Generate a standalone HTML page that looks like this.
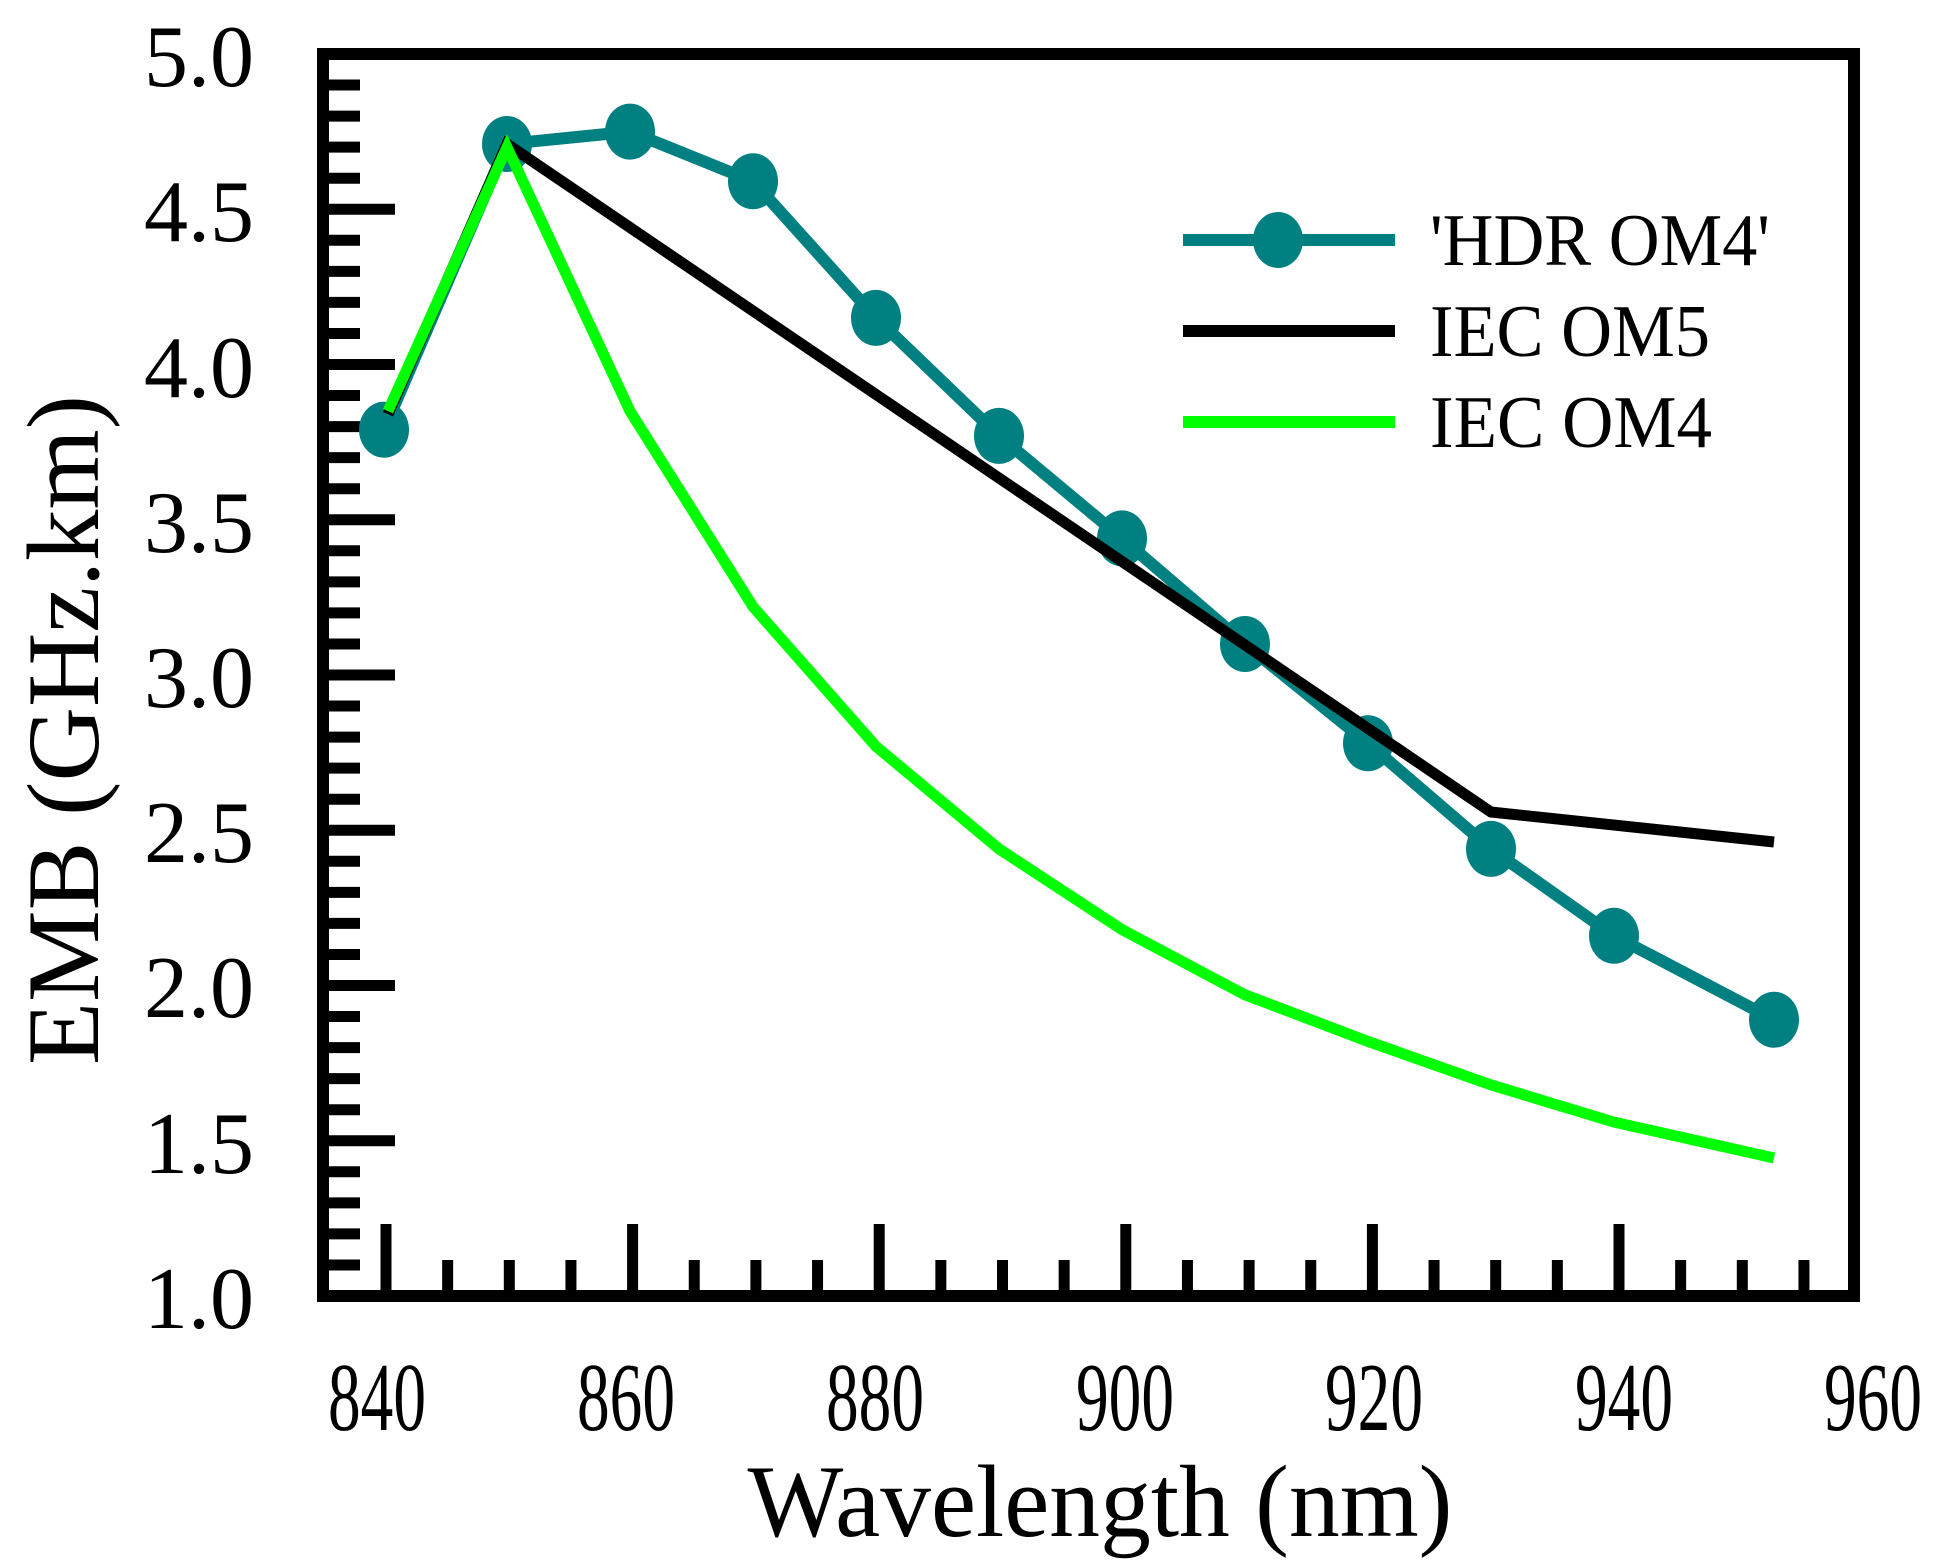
<!DOCTYPE html>
<html><head><meta charset="utf-8"><style>
html,body{margin:0;padding:0;background:#fff;}
svg{display:block;}
text{font-family:"Liberation Serif",serif;fill:#000;}
</style></head><body>
<svg width="1942" height="1567" viewBox="0 0 1942 1567" xmlns="http://www.w3.org/2000/svg">
<path fill="none" stroke="#000" stroke-width="11" d="
M323 1264.95h37 M323 1233.9h37 M323 1202.85h37 M323 1171.8h37 M323 1140.75h72
M323 1109.7h37 M323 1078.65h37 M323 1047.6h37 M323 1016.55h37 M323 985.5h72
M323 954.45h37 M323 923.4h37 M323 892.35h37 M323 861.3h37 M323 830.25h72
M323 799.2h37 M323 768.15h37 M323 737.1h37 M323 706.05h37 M323 675h72
M323 643.95h37 M323 612.9h37 M323 581.85h37 M323 550.8h37 M323 519.75h72
M323 488.7h37 M323 457.65h37 M323 426.6h37 M323 395.55h37 M323 364.5h72
M323 333.45h37 M323 302.4h37 M323 271.35h37 M323 240.3h37 M323 209.25h72
M323 178.2h37 M323 147.15h37 M323 116.1h37 M323 85.05h37
M386 1296V1224 M447.65 1296V1260 M509.3 1296V1260 M570.95 1296V1260
M632.6 1296V1224 M694.25 1296V1260 M755.9 1296V1260 M817.55 1296V1260
M879.2 1296V1224 M940.85 1296V1260 M1002.5 1296V1260 M1064.15 1296V1260
M1125.8 1296V1224 M1187.45 1296V1260 M1249.1 1296V1260 M1310.75 1296V1260
M1372.4 1296V1224 M1434.05 1296V1260 M1495.7 1296V1260 M1557.35 1296V1260
M1619 1296V1224 M1680.65 1296V1260 M1742.3 1296V1260 M1803.95 1296V1260"/>
<rect x="323" y="54" width="1531" height="1242" fill="none" stroke="#000" stroke-width="12"/>
<g font-size="88" text-anchor="end">
<text x="254" y="86">5.0</text>
<text x="254" y="241">4.5</text>
<text x="254" y="397">4.0</text>
<text x="254" y="552">3.5</text>
<text x="254" y="707">3.0</text>
<text x="254" y="862">2.5</text>
<text x="254" y="1017">2.0</text>
<text x="254" y="1173">1.5</text>
<text x="254" y="1328">1.0</text>
</g>
<g font-size="98" text-anchor="middle">
<text x="377" y="1430" textLength="98" lengthAdjust="spacingAndGlyphs">840</text>
<text x="626" y="1430" textLength="98" lengthAdjust="spacingAndGlyphs">860</text>
<text x="875" y="1430" textLength="98" lengthAdjust="spacingAndGlyphs">880</text>
<text x="1125" y="1430" textLength="98" lengthAdjust="spacingAndGlyphs">900</text>
<text x="1374" y="1430" textLength="98" lengthAdjust="spacingAndGlyphs">920</text>
<text x="1624" y="1430" textLength="98" lengthAdjust="spacingAndGlyphs">940</text>
<text x="1873" y="1430" textLength="98" lengthAdjust="spacingAndGlyphs">960</text>
</g>
<text x="1100" y="1536" font-size="103" text-anchor="middle" textLength="705" lengthAdjust="spacingAndGlyphs">Wavelength (nm)</text>
<text transform="translate(98,730) rotate(-90)" font-size="103" text-anchor="middle" textLength="670" lengthAdjust="spacingAndGlyphs">EMB (GHz.km)</text>
<polyline points="384,429.7 507,144 630,131.6 753,181.3 876,317.9 999,435.9 1122,538.4 1245,644 1368,743.3 1491,848.9 1614,935.8 1774,1019.7" fill="none" stroke="#008080" stroke-width="12" stroke-linejoin="round"/>
<g fill="#008080">
<ellipse cx="384" cy="429.7" rx="25" ry="28"/>
<ellipse cx="507" cy="144" rx="25" ry="28"/>
<ellipse cx="630" cy="131.6" rx="25" ry="28"/>
<ellipse cx="753" cy="181.3" rx="25" ry="28"/>
<ellipse cx="876" cy="317.9" rx="25" ry="28"/>
<ellipse cx="999" cy="435.9" rx="25" ry="28"/>
<ellipse cx="1122" cy="538.4" rx="25" ry="28"/>
<ellipse cx="1245" cy="644" rx="25" ry="28"/>
<ellipse cx="1368" cy="743.3" rx="25" ry="28"/>
<ellipse cx="1491" cy="848.9" rx="25" ry="28"/>
<ellipse cx="1614" cy="935.8" rx="25" ry="28"/>
<ellipse cx="1774" cy="1019.7" rx="25" ry="28"/>
</g>
<polyline points="388,414.2 507,144 1491,812 1774,842" fill="none" stroke="#000" stroke-width="11"/>
<polyline points="388,411.1 507,147.2 630,411.1 753,606.7 876,746.4 999,848.9 1122,929.6 1245,994.8 1368,1041.4 1491,1084.9 1614,1122.1 1774,1158" fill="none" stroke="#00ff00" stroke-width="11"/>
<line x1="1183" y1="240" x2="1395" y2="240" stroke="#008080" stroke-width="12"/>
<ellipse cx="1278" cy="240" rx="25" ry="28" fill="#008080"/>
<line x1="1183" y1="331" x2="1395" y2="331" stroke="#000" stroke-width="12"/>
<line x1="1183" y1="422" x2="1395" y2="422" stroke="#00ff00" stroke-width="12"/>
<g font-size="74">
<text x="1430" y="265" textLength="340" lengthAdjust="spacingAndGlyphs">'HDR OM4'</text>
<text x="1430" y="356" textLength="280" lengthAdjust="spacingAndGlyphs">IEC OM5</text>
<text x="1430" y="447" textLength="282" lengthAdjust="spacingAndGlyphs">IEC OM4</text>
</g>
</svg>
</body></html>
